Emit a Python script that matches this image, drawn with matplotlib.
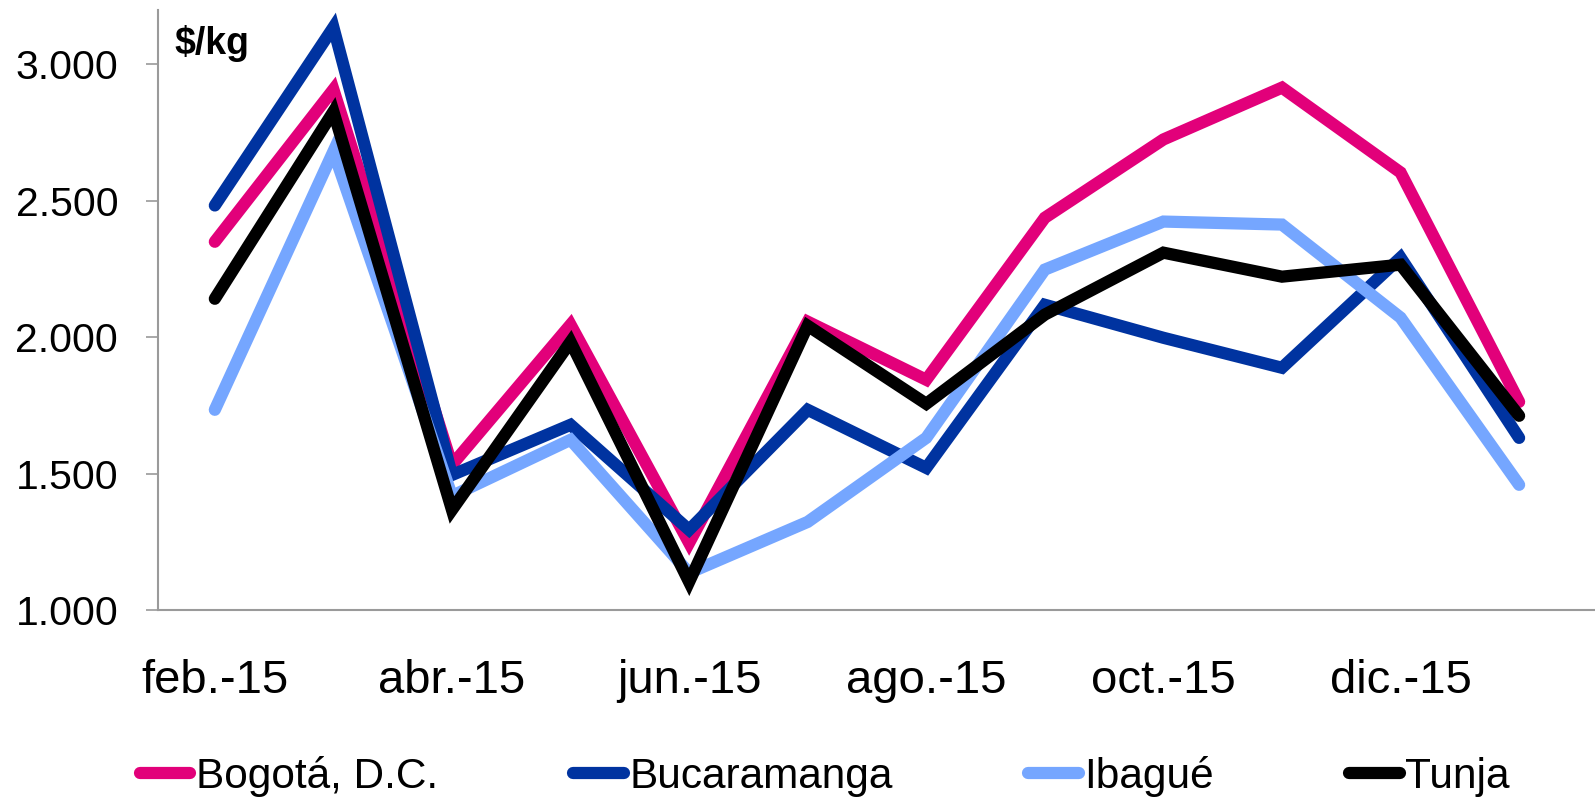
import matplotlib
matplotlib.use("Agg")
import matplotlib.pyplot as plt

plt.rcParams["font.family"] = ["Liberation Sans", "DejaVu Sans"]

# precios mensuales ($/kg), feb-15 a ene-16
meses = ["feb.-15", "mar.-15", "abr.-15", "may.-15", "jun.-15", "jul.-15",
         "ago.-15", "sep.-15", "oct.-15", "nov.-15", "dic.-15", "ene.-16"]
bogota = [2350, 2908, 1532, 2046, 1246, 2057, 1844, 2438, 2725, 2915, 2604, 1763]
bucaramanga = [2483, 3136, 1495, 1679, 1294, 1734, 1521, 2119, 1998, 1888, 2292, 1631]
ibague = [1734, 2681, 1418, 1624, 1136, 1323, 1631, 2248, 2424, 2413, 2072, 1459]
tunja = [2141, 2827, 1367, 1983, 1103, 2042, 1756, 2083, 2310, 2222, 2266, 1712]

series = [("Bogotá, D.C.", bogota, "#E2007A"),
          ("Bucaramanga", bucaramanga, "#0033A0"),
          ("Ibagué", ibague, "#75A6FF"),
          ("Tunja", tunja, "#000000")]

fig = plt.figure(figsize=(15.95, 7.97), dpi=100)
ax = fig.add_axes([0.099, 0.2346, 0.901, 0.753])

x = list(range(len(meses)))
for nombre, vals, col in series:
    ax.plot(x, vals, color=col, lw=8.8, label=nombre,
            solid_capstyle="round", solid_joinstyle="miter")

ax.set_xlim(-0.48, 11.64)
ax.set_ylim(1000, 3200)
ax.set_yticks([1000, 1500, 2000, 2500, 3000])
ax.set_yticklabels(["1.000", "1.500", "2.000", "2.500", "3.000"])
ax.set_xticks(x[::2])
ax.set_xticklabels(meses[::2])

for s in ("top", "right"):
    ax.spines[s].set_visible(False)
for s in ("left", "bottom"):
    ax.spines[s].set_color("#9a9a9a")
    ax.spines[s].set_linewidth(1.5)
ax.tick_params(axis="y", length=8.6, width=1.2, color="#9a9a9a",
               labelsize=29.5, pad=20)
ax.tick_params(axis="x", length=0, labelsize=34, pad=35)

ax.text(0.0118, 0.975, "$/kg", transform=ax.transAxes, fontsize=27,
        fontweight="bold", va="top", ha="left")

fig.legend(loc="center", bbox_to_anchor=(0.517, 0.0263), ncol=4, frameon=False,
           fontsize=30.5, handlelength=1.2, handletextpad=0.12,
           columnspacing=3.2, borderpad=0)

fig.savefig("out.png", dpi=100)
